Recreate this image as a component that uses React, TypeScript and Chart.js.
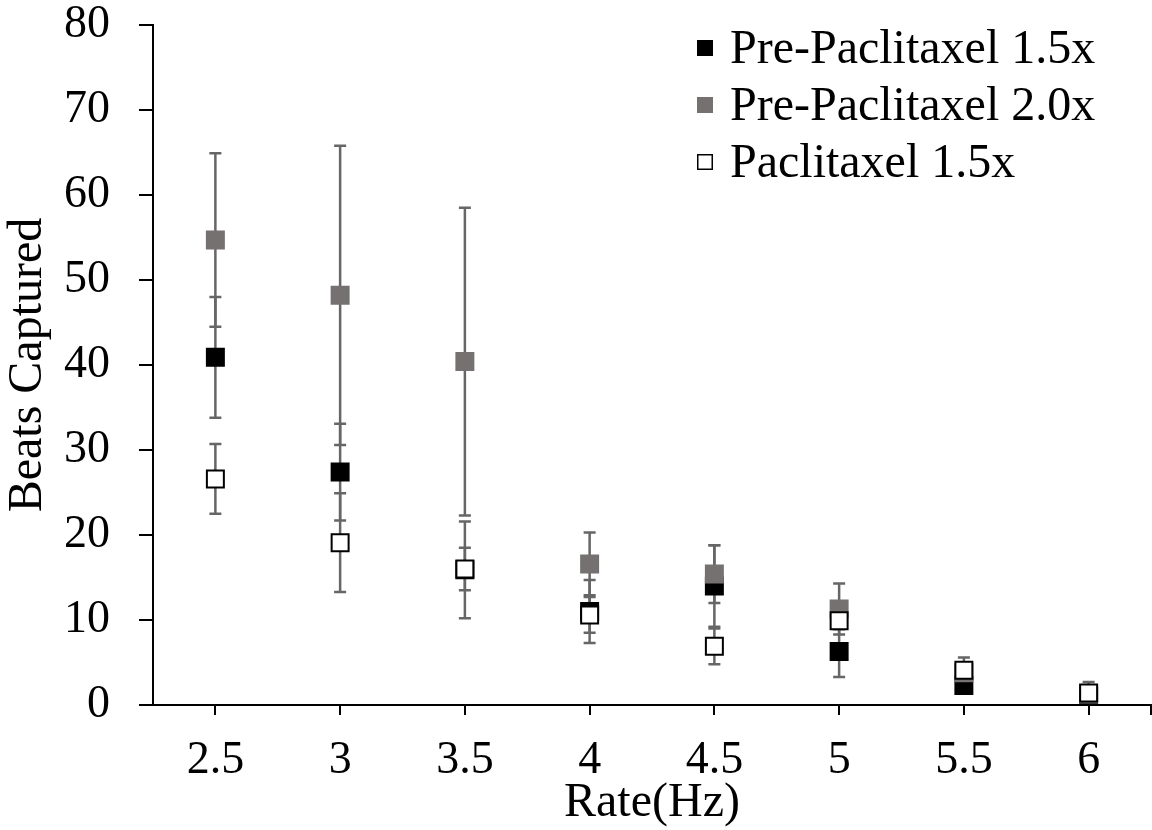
import React, { useEffect, useRef } from 'react';
import { Chart, registerables } from 'chart.js';

Chart.register(...registerables);

// ---- data ----
const rates = [2.5, 3, 3.5, 4, 4.5, 5, 5.5, 6];
const xTickLabels = ['2.5', '3', '3.5', '4', '4.5', '5', '5.5', '6'];
const yTickValues = [0, 10, 20, 30, 40, 50, 60, 70, 80];

const seriesNames = ['Pre-Paclitaxel 1.5x', 'Pre-Paclitaxel 2.0x', 'Paclitaxel 1.5x'];

const pre15 = [40.9, 27.4, 15.9, 11.0, 14.0, 6.3, 2.3, 1.0];
const pre15Err = [7.1, 5.7, 5.7, 3.7, 4.8, 3.0, 0.5, 0.5];

const pre20 = [54.7, 48.2, 40.4, 16.6, 15.4, 11.3, 3.8, 1.3];
const pre20Err = [10.2, 17.6, 18.1, 3.7, 3.4, 3.0, 1.0, 0.6];

const pac15 = [26.6, 19.1, 16.0, 10.6, 6.9, 9.9, 4.1, 1.4];
const pac15Err = [4.1, 5.8, 2.5, 2.1, 2.1, 1.0, 1.5, 1.3];

// ---- styles ----
const FONT = '"Liberation Serif", "Times New Roman", serif';
const GRAY = '#767171';
const ERR_COLOR = '#666666';

const errorBarPlugin = {
  id: 'errorBars',
  beforeDatasetsDraw(chart: any) {
    const { ctx, scales } = chart;
    const x = scales.x;
    const y = scales.y;
    ctx.save();
    ctx.strokeStyle = ERR_COLOR;
    ctx.lineWidth = 2.5;
    chart.data.datasets.forEach((ds: any) => {
      const errs: number[] = ds.errors || [];
      ds.data.forEach((pt: any, j: number) => {
        const e = errs[j] || 0;
        const px = x.getPixelForValue(pt.x);
        const top = y.getPixelForValue(pt.y + e);
        const bot = y.getPixelForValue(pt.y - e);
        ctx.beginPath();
        ctx.moveTo(px, top);
        ctx.lineTo(px, bot);
        ctx.moveTo(px - 6, top);
        ctx.lineTo(px + 6, top);
        ctx.moveTo(px - 6, bot);
        ctx.lineTo(px + 6, bot);
        ctx.stroke();
      });
    });
    ctx.restore();
  },
};

const legendPlugin = {
  id: 'customLegend',
  afterDraw(chart: any) {
    const { ctx } = chart;
    ctx.save();
    ctx.font = `48px ${FONT}`;
    ctx.textBaseline = 'alphabetic';
    ctx.textAlign = 'left';
    const sq = 16;
    const sqLeft = 697;
    const textX = 730;
    chart.data.datasets.forEach((ds: any, i: number) => {
      const baseline = 63 + i * 57;
      const cy = baseline - 15;
      ctx.fillStyle = ds.backgroundColor;
      ctx.fillRect(sqLeft, cy - sq / 2, sq, sq);
      ctx.lineWidth = 1.5;
      ctx.strokeStyle = ds.borderColor;
      ctx.strokeRect(sqLeft + 0.75, cy - sq / 2 + 0.75, sq - 1.5, sq - 1.5);
      ctx.fillStyle = '#000';
      ctx.fillText(ds.label, textX, baseline);
    });
    ctx.restore();
  },
};

function toPoints(vals: number[]) {
  return vals.map((v, i) => ({ x: rates[i], y: v }));
}

function zeroPadding(axis: any) {
  axis.paddingTop = 0;
  axis.paddingBottom = 0;
  axis.paddingLeft = 0;
  axis.paddingRight = 0;
}

export default function App() {
  const canvasRef = useRef<HTMLCanvasElement | null>(null);

  useEffect(() => {
    if (!canvasRef.current) return;
    const common = {
      pointStyle: 'rect',
      pointRadius: 12,
      pointHoverRadius: 12,
      borderWidth: 2,
      showLine: false,
      clip: false,
    };
    const chart = new Chart(canvasRef.current, {
      type: 'scatter',
      data: {
        datasets: [
          {
            ...common,
            label: seriesNames[0],
            data: toPoints(pre15),
            errors: pre15Err,
            backgroundColor: '#000000',
            borderColor: '#000000',
            order: 3,
          },
          {
            ...common,
            label: seriesNames[1],
            data: toPoints(pre20),
            errors: pre20Err,
            backgroundColor: GRAY,
            borderColor: GRAY,
            order: 2,
          },
          {
            ...common,
            label: seriesNames[2],
            data: toPoints(pac15),
            errors: pac15Err,
            backgroundColor: '#ffffff',
            borderColor: '#000000',
            order: 1,
          },
        ] as any,
      },
      options: {
        animation: false,
        responsive: true,
        maintainAspectRatio: false,
        events: [],
        layout: {
          autoPadding: false,
          padding: { left: 0, top: 25, right: 1, bottom: 0 },
        },
        plugins: {
          legend: { display: false },
          tooltip: { enabled: false },
        },
        scales: {
          x: {
            type: 'linear',
            min: 2.25,
            max: 6.25,
            afterBuildTicks: (axis: any) => {
              axis.ticks = [...rates, 6.25].map((v) => ({ value: v }));
            },
            afterFit: (axis: any) => {
              axis.height = 125;
              zeroPadding(axis);
            },
            border: { display: true, color: '#000', width: 2 },
            grid: {
              drawOnChartArea: false,
              drawTicks: true,
              tickLength: 10,
              color: '#000',
              lineWidth: 2,
            },
            ticks: {
              padding: 18,
              color: '#000',
              font: { family: FONT, size: 46 },
              maxRotation: 0,
              autoSkip: false,
              callback: (_v: any, i: number) => (i < xTickLabels.length ? xTickLabels[i] : ''),
            },
            title: {
              display: true,
              text: 'Rate(Hz)',
              color: '#000',
              font: { family: FONT, size: 48 },
              padding: { top: 0, bottom: -2 },
            },
          },
          y: {
            type: 'linear',
            min: 0,
            max: 80,
            afterBuildTicks: (axis: any) => {
              axis.ticks = yTickValues.map((v) => ({ value: v }));
            },
            afterFit: (axis: any) => {
              axis.width = 153;
              zeroPadding(axis);
            },
            border: { display: true, color: '#000', width: 2 },
            grid: {
              drawOnChartArea: false,
              drawTicks: true,
              tickLength: 14,
              color: '#000',
              lineWidth: 2,
            },
            ticks: {
              padding: 29,
              color: '#000',
              font: { family: FONT, size: 46 },
            },
            title: {
              display: true,
              text: 'Beats Captured',
              color: '#000',
              font: { family: FONT, size: 48 },
              padding: { top: 0, bottom: 0 },
            },
          },
        },
      } as any,
      plugins: [errorBarPlugin, legendPlugin],
    });
    return () => chart.destroy();
  }, []);

  return (
    <div style={{ position: 'fixed', left: 0, top: 0, width: 1152, height: 830, background: '#fff' }}>
      <canvas ref={canvasRef} />
    </div>
  );
}
